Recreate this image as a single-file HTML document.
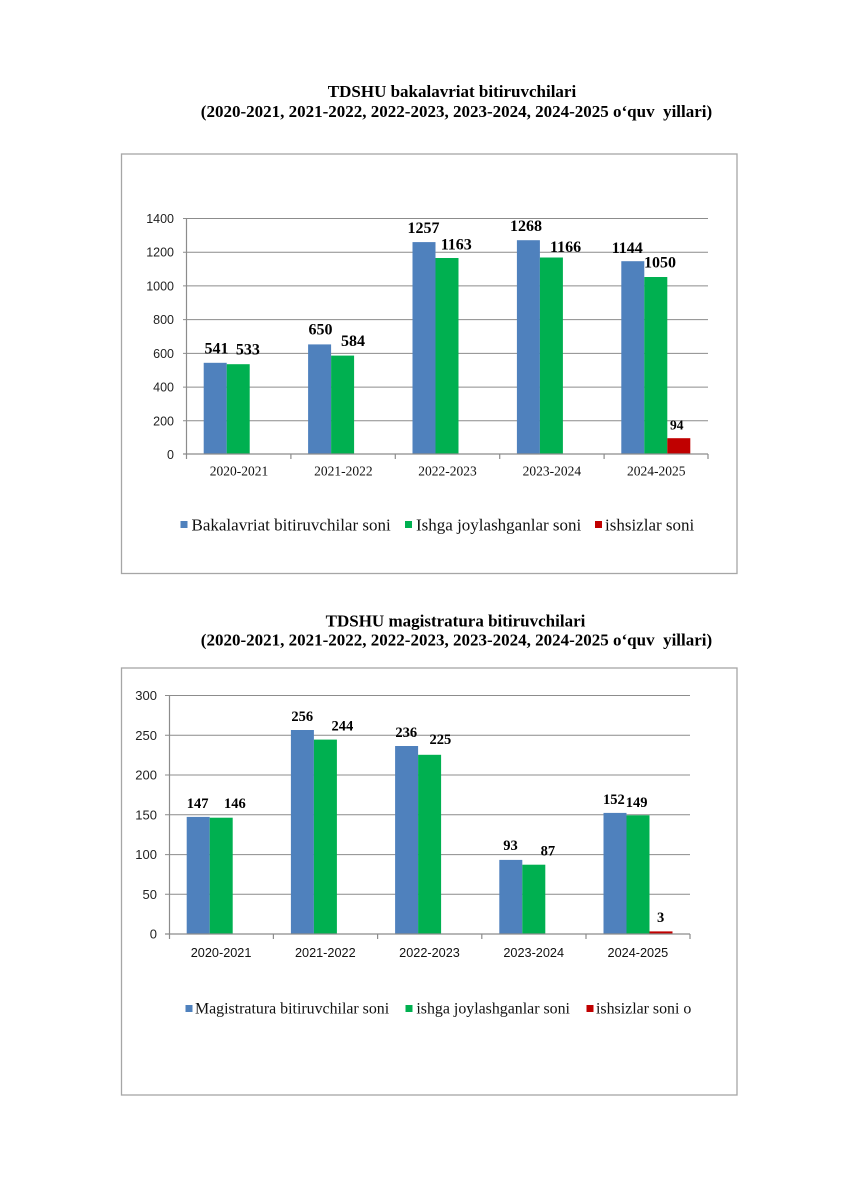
<!DOCTYPE html>
<html><head><meta charset="utf-8"><style>
html,body{margin:0;padding:0;background:#fff;}
svg{display:block;}
.t{font-family:"Liberation Serif",serif;font-weight:bold;font-size:17px;fill:#000;white-space:pre;}
.yl{font-family:"Liberation Sans",sans-serif;fill:#222;}
.xs{font-family:"Liberation Serif",serif;font-size:13.5px;fill:#111;}
.xa{font-family:"Liberation Sans",sans-serif;font-size:12.7px;fill:#111;}
.dl{font-family:"Liberation Serif",serif;font-weight:bold;fill:#000;}
.lg{font-family:"Liberation Serif",serif;fill:#111;}
</style></head><body>
<svg width="849" height="1200" viewBox="0 0 849 1200" xmlns="http://www.w3.org/2000/svg">
<rect x="0" y="0" width="849" height="1200" fill="#fff"/>

<!-- ===== Chart 1 ===== -->
<text class="t" x="452" y="97" text-anchor="middle">TDSHU bakalavriat bitiruvchilari</text>
<text class="t" x="456.5" y="117" text-anchor="middle">(2020-2021, 2021-2022, 2022-2023, 2023-2024, 2024-2025 o‘quv  yillari)</text>
<rect x="121.5" y="154" width="615.5" height="419.5" fill="none" stroke="#a6a6a6" stroke-width="1.3"/>

<g stroke="#8c8c8c" stroke-width="1">
<line x1="183" y1="218.5" x2="708" y2="218.5"/>
<line x1="183" y1="252.2" x2="708" y2="252.2"/>
<line x1="183" y1="285.9" x2="708" y2="285.9"/>
<line x1="183" y1="319.6" x2="708" y2="319.6"/>
<line x1="183" y1="353.4" x2="708" y2="353.4"/>
<line x1="183" y1="387.1" x2="708" y2="387.1"/>
<line x1="183" y1="420.8" x2="708" y2="420.8"/>
</g>

<g class="yl" font-size="12.5" text-anchor="end">
<text x="174" y="223">1400</text>
<text x="174" y="256.7">1200</text>
<text x="174" y="290.4">1000</text>
<text x="174" y="324.1">800</text>
<text x="174" y="357.9">600</text>
<text x="174" y="391.6">400</text>
<text x="174" y="425.3">200</text>
<text x="174" y="459">0</text>
</g>

<!-- bars chart1 -->
<g>
<rect x="203.7" y="362.8" width="23" height="91.2" fill="#4F81BD"/>
<rect x="226.7" y="364.2" width="23" height="89.8" fill="#00B050"/>
<rect x="308.1" y="344.4" width="23" height="109.6" fill="#4F81BD"/>
<rect x="331.1" y="355.6" width="23" height="98.4" fill="#00B050"/>
<rect x="412.5" y="242.1" width="23" height="211.9" fill="#4F81BD"/>
<rect x="435.5" y="258" width="23" height="196" fill="#00B050"/>
<rect x="516.9" y="240.2" width="23" height="213.8" fill="#4F81BD"/>
<rect x="539.9" y="257.5" width="23" height="196.5" fill="#00B050"/>
<rect x="621.3" y="261.2" width="23" height="192.8" fill="#4F81BD"/>
<rect x="644.3" y="277" width="23" height="177" fill="#00B050"/>
<rect x="667.3" y="438.2" width="23" height="15.8" fill="#C00000"/>
</g>

<g stroke="#8c8c8c" stroke-width="1.2">
<line x1="186.5" y1="218" x2="186.5" y2="454"/>
<line x1="183" y1="454" x2="708" y2="454"/>
<line x1="186.5" y1="454" x2="186.5" y2="459"/>
<line x1="290.9" y1="454" x2="290.9" y2="459"/>
<line x1="395.3" y1="454" x2="395.3" y2="459"/>
<line x1="499.7" y1="454" x2="499.7" y2="459"/>
<line x1="604.1" y1="454" x2="604.1" y2="459"/>
<line x1="708" y1="454" x2="708" y2="459"/>
</g>

<g class="xs" text-anchor="middle">
<text x="239" y="475.5">2020-2021</text>
<text x="343.4" y="475.5">2021-2022</text>
<text x="447.5" y="475.5">2022-2023</text>
<text x="551.9" y="475.5">2023-2024</text>
<text x="656.3" y="475.5">2024-2025</text>
</g>

<g class="dl" font-size="16">
<text x="204.5" y="353.6">541</text>
<text x="235.9" y="354.3">533</text>
<text x="308.5" y="334.6">650</text>
<text x="341" y="346">584</text>
<text x="407.5" y="233.1">1257</text>
<text x="440.7" y="249.6">1163</text>
<text x="510" y="231">1268</text>
<text x="550" y="252">1166</text>
<text x="611.7" y="253">1144</text>
<text x="644" y="267.6">1050</text>
</g>
<text class="dl" font-size="13.5" x="670" y="429.5">94</text>

<!-- legend chart1 -->
<rect x="180.5" y="521" width="7" height="7" fill="#4F81BD"/>
<text class="lg" font-size="17" x="191.5" y="530.5">Bakalavriat bitiruvchilar soni</text>
<rect x="405" y="521" width="7" height="7" fill="#00B050"/>
<text class="lg" font-size="17" x="416" y="530.5">Ishga joylashganlar soni</text>
<rect x="595" y="521" width="7" height="7" fill="#C00000"/>
<text class="lg" font-size="17" x="605" y="530.5">ishsizlar soni</text>

<!-- ===== Chart 2 ===== -->
<text class="t" x="455.5" y="626.5" text-anchor="middle">TDSHU magistratura bitiruvchilari</text>
<text class="t" x="456.5" y="645.5" text-anchor="middle">(2020-2021, 2021-2022, 2022-2023, 2023-2024, 2024-2025 o‘quv  yillari)</text>
<rect x="121.5" y="668" width="615.5" height="427" fill="none" stroke="#a6a6a6" stroke-width="1.3"/>

<g stroke="#8c8c8c" stroke-width="1">
<line x1="165" y1="695.5" x2="690" y2="695.5"/>
<line x1="165" y1="735.2" x2="690" y2="735.2"/>
<line x1="165" y1="775" x2="690" y2="775"/>
<line x1="165" y1="814.8" x2="690" y2="814.8"/>
<line x1="165" y1="854.6" x2="690" y2="854.6"/>
<line x1="165" y1="894.3" x2="690" y2="894.3"/>
</g>

<g class="yl" font-size="13" text-anchor="end">
<text x="157" y="700">300</text>
<text x="157" y="739.8">250</text>
<text x="157" y="779.6">200</text>
<text x="157" y="819.4">150</text>
<text x="157" y="859.2">100</text>
<text x="157" y="898.9">50</text>
<text x="157" y="938.7">0</text>
</g>

<!-- bars chart2 -->
<g>
<rect x="186.7" y="816.9" width="23" height="117.1" fill="#4F81BD"/>
<rect x="209.7" y="817.7" width="23" height="116.3" fill="#00B050"/>
<rect x="290.9" y="730" width="23" height="204" fill="#4F81BD"/>
<rect x="313.9" y="739.6" width="23" height="194.4" fill="#00B050"/>
<rect x="395.1" y="746" width="23" height="188" fill="#4F81BD"/>
<rect x="418.1" y="754.8" width="23" height="179.2" fill="#00B050"/>
<rect x="499.3" y="859.9" width="23" height="74.1" fill="#4F81BD"/>
<rect x="522.3" y="864.7" width="23" height="69.3" fill="#00B050"/>
<rect x="603.5" y="812.9" width="23" height="121.1" fill="#4F81BD"/>
<rect x="626.5" y="815.3" width="23" height="118.7" fill="#00B050"/>
<rect x="649.5" y="931.4" width="23" height="2.6" fill="#C00000"/>
</g>

<g stroke="#8c8c8c" stroke-width="1.2">
<line x1="169.5" y1="695" x2="169.5" y2="934"/>
<line x1="165" y1="934" x2="690" y2="934"/>
<line x1="169.5" y1="934" x2="169.5" y2="939"/>
<line x1="273.4" y1="934" x2="273.4" y2="939"/>
<line x1="377.6" y1="934" x2="377.6" y2="939"/>
<line x1="481.8" y1="934" x2="481.8" y2="939"/>
<line x1="586" y1="934" x2="586" y2="939"/>
<line x1="690" y1="934" x2="690" y2="939"/>
</g>

<g class="xa" text-anchor="middle">
<text x="221.1" y="957.2">2020-2021</text>
<text x="325.3" y="957.2">2021-2022</text>
<text x="429.5" y="957.2">2022-2023</text>
<text x="533.7" y="957.2">2023-2024</text>
<text x="637.9" y="957.2">2024-2025</text>
</g>

<g class="dl" font-size="14.5">
<text x="186.7" y="808.1">147</text>
<text x="224" y="808.1">146</text>
<text x="291.4" y="720.8">256</text>
<text x="331.5" y="730.5">244</text>
<text x="395.4" y="736.8">236</text>
<text x="429.5" y="744.1">225</text>
<text x="503.3" y="850.1">93</text>
<text x="540.6" y="855.5">87</text>
<text x="603" y="803.8">152</text>
<text x="625.7" y="806.8">149</text>
<text x="657" y="921.8">3</text>
</g>

<!-- legend chart2 -->
<rect x="185.5" y="1005" width="7" height="7" fill="#4F81BD"/>
<text class="lg" font-size="15.9" x="195" y="1013.7">Magistratura bitiruvchilar soni</text>
<rect x="405.5" y="1005" width="7" height="7" fill="#00B050"/>
<text class="lg" font-size="15.9" x="416.4" y="1013.7">ishga joylashganlar soni</text>
<rect x="586.5" y="1005" width="7" height="7" fill="#C00000"/>
<text class="lg" font-size="15.9" x="596" y="1013.7">ishsizlar soni o</text>
</svg>
</body></html>
